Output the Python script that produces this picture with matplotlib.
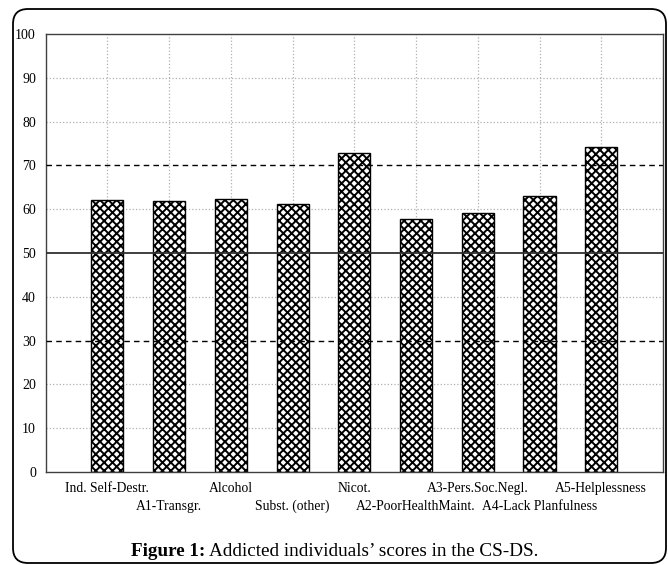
import matplotlib
matplotlib.use("Agg")
import matplotlib.pyplot as plt
from matplotlib.patches import FancyBboxPatch

categories = ["Ind. Self-Destr.", "A1-Transgr.", "Alcohol", "Subst. (other)", "Nicot.",
              "A2-PoorHealthMaint.", "A3-Pers.Soc.Negl.", "A4-Lack Planfulness", "A5-Helplessness"]
values = [62.1, 61.8, 62.3, 61.1, 72.8, 57.8, 59.1, 63.0, 74.2]
y_ticks = [0, 10, 20, 30, 40, 50, 60, 70, 80, 90, 100]
dashed_refs = [30, 70]
solid_ref = 50

plt.rcParams['font.family'] = ['Liberation Serif', 'DejaVu Serif']
plt.rcParams['hatch.linewidth'] = 1.4

fig = plt.figure(figsize=(6.68, 5.65), dpi=100)
ax = fig.add_axes([0.0684, 0.1646, 0.9241, 0.7752])

x = list(range(1, len(categories) + 1))
ax.bar(x, values, width=0.52, color='white', edgecolor='black', linewidth=1.0,
       hatch='xxxx', zorder=2)

ax.set_xlim(0, len(categories) + 1)
ax.set_ylim(0, 100)
ax.set_yticks(y_ticks)
ax.set_xticks(x)
ax.set_xticklabels([])

# two-row category labels
trans = ax.get_xaxis_transform()
axh_px = 0.7752 * 565
for i, (xv, c) in enumerate(zip(x, categories)):
    off = 16 if i % 2 == 0 else 34
    ax.text(xv, -off / axh_px, c, transform=trans, ha='center', va='center',
            fontsize=9.8, clip_on=False)

for yv in y_ticks:
    if yv in dashed_refs or yv == solid_ref or yv in (0, 100):
        continue
    ax.axhline(yv, color='#b0b0b0', linestyle=':', linewidth=0.9, zorder=1)
for xv in x:
    ax.axvline(xv, color='#b0b0b0', linestyle=':', linewidth=0.9, zorder=1)
for yv in dashed_refs:
    ax.axhline(yv, color='black', linestyle=(0, (4, 3)), linewidth=1.0, zorder=3)
ax.axhline(solid_ref, color='#303030', linestyle='-', linewidth=1.3, zorder=3)

ax.tick_params(axis='y', labelsize=10, length=0, pad=7, right=True, direction='in')
ax.tick_params(axis='x', length=0, pad=6)
for s in ax.spines.values():
    s.set_color('#404040')
    s.set_linewidth(1.0)

# caption
fig.canvas.draw()
r = fig.canvas.get_renderer()
t1 = fig.text(131 / 668, 1 - 552 / 565, "Figure 1:", fontsize=13.8, fontweight='bold',
              ha='left', va='center')
bb = t1.get_window_extent(renderer=r)
fig.text((bb.x1 + 4) / 668, 1 - 552 / 565, "Addicted individuals\u2019 scores in the CS-DS.",
         fontsize=13.8, ha='left', va='center')

border = FancyBboxPatch((0.13, 0.02), 6.53, 5.54,
                        boxstyle="round,pad=0,rounding_size=0.15",
                        transform=fig.dpi_scale_trans, facecolor='none',
                        edgecolor='black', linewidth=1.3)
fig.patches.append(border)

fig.savefig("out.png", dpi=100)
